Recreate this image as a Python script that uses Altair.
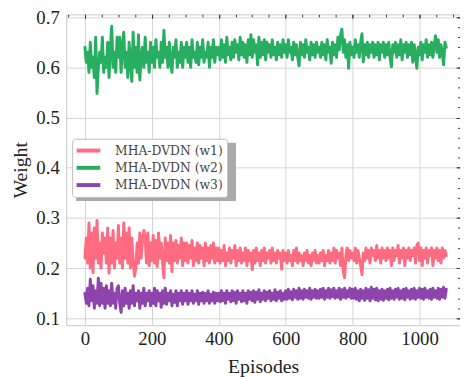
import altair as alt
import pandas as pd

# ---------------- data ----------------
episodes = list(range(0, 1081, 4))

w1 = ([0.22, 0.26, 0.21, 0.29, 0.20, 0.27, 0.191, 0.28, 0.22, 0.295, 0.21, 0.25, 0.20,
       0.27, 0.23, 0.26, 0.21, 0.28, 0.19, 0.26, 0.21, 0.275, 0.20, 0.25, 0.22]
      + [0.285, 0.21, 0.26, 0.20, 0.29, 0.22, 0.27, 0.21, 0.28, 0.20, 0.26, 0.215, 0.184,
         0.20, 0.25, 0.21, 0.27, 0.22, 0.255, 0.275, 0.26, 0.21, 0.27, 0.205, 0.25]
      + [0.215, 0.265, 0.21, 0.255, 0.203, 0.27, 0.22, 0.25, 0.21, 0.181, 0.26, 0.215, 0.25,
         0.21, 0.265, 0.193, 0.25, 0.215, 0.255, 0.21, 0.245, 0.22, 0.26, 0.205, 0.25]
      + [0.215, 0.25, 0.21, 0.245, 0.22, 0.255, 0.205, 0.24, 0.215, 0.25, 0.21, 0.245, 0.22,
         0.24, 0.205, 0.25, 0.215, 0.24, 0.21, 0.245, 0.22, 0.25, 0.21, 0.24, 0.215]
      + [0.24, 0.21, 0.235, 0.215, 0.245, 0.205, 0.23, 0.215, 0.24, 0.21, 0.235, 0.22, 0.245,
         0.205, 0.235, 0.215, 0.24, 0.21, 0.23, 0.215, 0.24, 0.205, 0.235, 0.215, 0.23]
      + [0.197, 0.235, 0.21, 0.24, 0.215, 0.23, 0.205, 0.235, 0.215, 0.24, 0.21, 0.23, 0.22,
         0.235, 0.21, 0.24, 0.215, 0.23, 0.21, 0.235, 0.22, 0.23, 0.198, 0.235, 0.215]
      + [0.23, 0.21, 0.235, 0.215, 0.225, 0.205, 0.235, 0.215, 0.24, 0.21, 0.23, 0.215, 0.225,
         0.205, 0.23, 0.215, 0.235, 0.21, 0.225, 0.205, 0.23, 0.215, 0.235, 0.21, 0.225]
      + [0.21, 0.23, 0.215, 0.235, 0.205, 0.225, 0.215, 0.235, 0.21, 0.23, 0.215, 0.24, 0.21,
         0.235, 0.22, 0.23, 0.205, 0.24, 0.195, 0.181, 0.225, 0.24, 0.215, 0.235, 0.22]
      + [0.23, 0.215, 0.24, 0.21, 0.235, 0.22, 0.205, 0.187, 0.23, 0.215, 0.24, 0.22, 0.235,
         0.21, 0.24, 0.225, 0.235, 0.215, 0.245, 0.22, 0.235, 0.21, 0.24, 0.22, 0.235]
      + [0.215, 0.24, 0.22, 0.235, 0.205, 0.24, 0.215, 0.235, 0.225, 0.245, 0.21, 0.235, 0.22,
         0.24, 0.205, 0.235, 0.22, 0.24, 0.215, 0.235, 0.225, 0.24, 0.21, 0.245, 0.25]
      + [0.215, 0.24, 0.205, 0.235, 0.22, 0.24, 0.21, 0.235, 0.225, 0.24, 0.205, 0.235, 0.22,
         0.24, 0.215, 0.235, 0.21, 0.24, 0.22, 0.235, 0.225])

w2 = ([0.64, 0.61, 0.63, 0.59, 0.65, 0.60, 0.62, 0.58, 0.66, 0.548, 0.60, 0.63, 0.61,
       0.66, 0.59, 0.62, 0.60, 0.65, 0.58, 0.64, 0.682, 0.60, 0.63, 0.59, 0.66]
      + [0.62, 0.66, 0.59, 0.64, 0.67, 0.60, 0.63, 0.58, 0.65, 0.61, 0.572, 0.67, 0.60,
         0.64, 0.59, 0.665, 0.575, 0.62, 0.64, 0.60, 0.66, 0.61, 0.63, 0.59, 0.65]
      + [0.61, 0.64, 0.60, 0.655, 0.62, 0.63, 0.60, 0.65, 0.61, 0.674, 0.62, 0.64, 0.60,
         0.65, 0.61, 0.59, 0.64, 0.62, 0.655, 0.60, 0.63, 0.61, 0.65, 0.60, 0.64]
      + [0.62, 0.65, 0.61, 0.64, 0.60, 0.655, 0.62, 0.63, 0.61, 0.65, 0.605, 0.64, 0.62,
         0.655, 0.61, 0.63, 0.62, 0.65, 0.60, 0.64, 0.62, 0.655, 0.61, 0.64, 0.625]
      + [0.64, 0.615, 0.655, 0.62, 0.645, 0.61, 0.66, 0.625, 0.64, 0.615, 0.65, 0.62, 0.655,
         0.63, 0.645, 0.615, 0.66, 0.625, 0.65, 0.62, 0.645, 0.61, 0.655, 0.625, 0.665]
      + [0.62, 0.655, 0.63, 0.645, 0.605, 0.66, 0.62, 0.65, 0.625, 0.655, 0.615, 0.65, 0.63,
         0.645, 0.62, 0.655, 0.625, 0.64, 0.615, 0.65, 0.625, 0.645, 0.62, 0.655, 0.63]
      + [0.645, 0.62, 0.655, 0.63, 0.64, 0.615, 0.65, 0.625, 0.645, 0.62, 0.603, 0.65, 0.625,
         0.645, 0.62, 0.655, 0.63, 0.64, 0.615, 0.65, 0.625, 0.645, 0.62, 0.65, 0.63]
      + [0.64, 0.62, 0.65, 0.625, 0.645, 0.615, 0.655, 0.63, 0.64, 0.608, 0.65, 0.625, 0.645,
         0.62, 0.66, 0.635, 0.665, 0.676, 0.63, 0.655, 0.62, 0.645, 0.598, 0.65, 0.625]
      + [0.64, 0.62, 0.655, 0.63, 0.645, 0.62, 0.65, 0.667, 0.611, 0.645, 0.625, 0.65, 0.62,
         0.645, 0.63, 0.65, 0.62, 0.645, 0.625, 0.65, 0.615, 0.645, 0.63, 0.65, 0.62]
      + [0.645, 0.625, 0.65, 0.62, 0.601, 0.645, 0.63, 0.65, 0.62, 0.645, 0.625, 0.655, 0.615,
         0.645, 0.63, 0.65, 0.62, 0.645, 0.625, 0.65, 0.61, 0.645, 0.625, 0.598, 0.64]
      + [0.625, 0.65, 0.615, 0.645, 0.63, 0.655, 0.62, 0.645, 0.625, 0.65, 0.62, 0.645, 0.663,
         0.63, 0.655, 0.62, 0.645, 0.63, 0.605, 0.65, 0.64])

w3 = ([0.15, 0.13, 0.16, 0.125, 0.178, 0.135, 0.165, 0.12, 0.155, 0.13, 0.18, 0.125, 0.17,
       0.13, 0.16, 0.12, 0.165, 0.13, 0.155, 0.125, 0.17, 0.13, 0.15, 0.12, 0.16]
      + [0.165, 0.13, 0.112, 0.155, 0.125, 0.16, 0.13, 0.15, 0.12, 0.155, 0.13, 0.165, 0.125,
         0.15, 0.135, 0.155, 0.12, 0.15, 0.13, 0.16, 0.125, 0.15, 0.135, 0.155, 0.125]
      + [0.15, 0.13, 0.16, 0.125, 0.155, 0.135, 0.15, 0.122, 0.155, 0.13, 0.16, 0.128, 0.15,
         0.135, 0.155, 0.125, 0.148, 0.132, 0.155, 0.125, 0.15, 0.135, 0.155, 0.128, 0.15]
      + [0.135, 0.155, 0.128, 0.15, 0.135, 0.155, 0.13, 0.148, 0.135, 0.155, 0.128, 0.15, 0.135,
         0.152, 0.13, 0.15, 0.135, 0.155, 0.13, 0.148, 0.135, 0.152, 0.13, 0.15, 0.135]
      + [0.15, 0.133, 0.155, 0.135, 0.15, 0.13, 0.155, 0.138, 0.15, 0.133, 0.155, 0.135, 0.152,
         0.13, 0.155, 0.138, 0.15, 0.133, 0.155, 0.135, 0.15, 0.13, 0.155, 0.138, 0.152]
      + [0.135, 0.155, 0.132, 0.152, 0.138, 0.157, 0.133, 0.15, 0.138, 0.155, 0.135, 0.152, 0.14,
         0.155, 0.135, 0.15, 0.138, 0.157, 0.135, 0.152, 0.14, 0.155, 0.135, 0.15, 0.138]
      + [0.155, 0.138, 0.158, 0.14, 0.153, 0.137, 0.158, 0.142, 0.155, 0.138, 0.16, 0.14, 0.155,
         0.138, 0.158, 0.142, 0.155, 0.14, 0.16, 0.138, 0.155, 0.142, 0.158, 0.14, 0.155]
      + [0.14, 0.158, 0.142, 0.16, 0.138, 0.155, 0.142, 0.16, 0.14, 0.157, 0.143, 0.16, 0.14,
         0.155, 0.142, 0.16, 0.138, 0.157, 0.142, 0.16, 0.14, 0.155, 0.143, 0.16, 0.14]
      + [0.158, 0.14, 0.16, 0.138, 0.155, 0.135, 0.158, 0.14, 0.155, 0.136, 0.16, 0.14, 0.157,
         0.135, 0.162, 0.14, 0.158, 0.137, 0.16, 0.135, 0.155, 0.138, 0.158, 0.136, 0.155]
      + [0.14, 0.158, 0.137, 0.16, 0.14, 0.155, 0.138, 0.158, 0.142, 0.16, 0.138, 0.155, 0.14,
         0.158, 0.137, 0.16, 0.142, 0.155, 0.138, 0.158, 0.14, 0.16, 0.138, 0.155, 0.142]
      + [0.16, 0.14, 0.158, 0.138, 0.16, 0.142, 0.155, 0.14, 0.158, 0.138, 0.16, 0.142, 0.155,
         0.14, 0.16, 0.138, 0.158, 0.142, 0.162, 0.14, 0.158])

series_names = ["MHA-DVDN (w1)", "MHA-DVDN (w2)", "MHA-DVDN (w3)"]
series_colors = ["#ff6b81", "#27ae60", "#8e44ad"]

x_major = [0, 200, 400, 600, 800, 1000]
x_minor = [-50, 0, 50, 100, 150, 200, 250, 300, 350, 400, 450, 500, 550,
           600, 650, 700, 750, 800, 850, 900, 950, 1000, 1050, 1100]
y_major = [0.1, 0.2, 0.3, 0.4, 0.5, 0.6, 0.7]
y_minor = [0.1, 0.12, 0.14, 0.16, 0.18, 0.2, 0.22, 0.24, 0.26, 0.28, 0.3, 0.32,
           0.34, 0.36, 0.38, 0.4, 0.42, 0.44, 0.46, 0.48, 0.5, 0.52, 0.54, 0.56,
           0.58, 0.6, 0.62, 0.64, 0.66, 0.68, 0.7]

rows = []
for name, vals in zip(series_names, [w1, w2, w3]):
    for e, v in zip(episodes, vals):
        rows.append({"Episode": e, "Weight": v, "Series": name})
df = pd.DataFrame(rows)

FONT = "Liberation Serif"
x_scale = alt.Scale(domain=[-56, 1121], nice=False, zero=False)
y_scale = alt.Scale(domain=[0.0862, 0.7056], nice=False, zero=False)

lines = alt.Chart(df).mark_line(strokeWidth=3, strokeJoin="round", strokeCap="round").encode(
    x=alt.X("Episode:Q", scale=x_scale,
            axis=alt.Axis(orient="bottom", values=x_major, format="d", title="Episodes",
                          grid=True, ticks=False, tickSize=0, domain=False,
                          labelPadding=5, titlePadding=8, titleFontSize=20)),
    y=alt.Y("Weight:Q", scale=y_scale,
            axis=alt.Axis(orient="left", values=y_major, format=".1f", title="Weight",
                          grid=True, ticks=False, tickSize=0, domain=False,
                          labelPadding=7, titlePadding=6, titleFontSize=20)),
    color=alt.Color("Series:N", scale=alt.Scale(domain=series_names, range=series_colors),
                    legend=alt.Legend(orient="none", legendX=6, legendY=126, title=None,
                                      symbolType="M-2,0H2", symbolSize=144,
                                      symbolStrokeWidth=4, symbolOffset=4.5,
                                      labelOffset=19, labelFont="DejaVu Serif",
                                      labelFontSize=12.5, labelColor="#444",
                                      rowPadding=1.5, padding=4,
                                      strokeColor="#bdbdbd", fillColor="white",
                                      cornerRadius=3)),
)


def tick_layer(xvals, yvals, size):
    return alt.Chart(df).mark_line(opacity=0).encode(
        x=alt.X("Episode:Q", scale=x_scale,
                axis=alt.Axis(orient="top", values=xvals, labels=False, ticks=True,
                              tickSize=size, tickColor="#333", tickWidth=1,
                              domain=False, grid=False, offset=-size, title=None)),
        y=alt.Y("Weight:Q", scale=y_scale,
                axis=alt.Axis(orient="right", values=yvals, labels=False, ticks=True,
                              tickSize=size, tickColor="#333", tickWidth=1,
                              domain=False, grid=False, offset=-size, title=None)),
    )


minor = tick_layer(x_minor, y_minor, 2.5)
major = tick_layer(x_major, y_major, 4)

shadow = alt.Chart(pd.DataFrame({"k": [0]})).mark_rect(color="#aaaaaa").encode(
    x=alt.value(10), x2=alt.value(172), y=alt.value(130), y2=alt.value(189)
)

chart = (
    alt.layer(shadow, minor, major, lines)
    .resolve_axis(x="independent", y="independent")
    .properties(width=399, height=315,
                padding={"left": 59, "top": 4, "right": 0, "bottom": 50},
                autosize=alt.AutoSizeParams(type="none"))
    .configure_view(stroke="#c8c8c8", strokeWidth=1)
    .configure_axis(labelFont=FONT, labelFontSize=19, labelColor="#222",
                    titleFont=FONT, titleFontSize=19, titleFontWeight="normal",
                    titleColor="#222", gridColor="#d3d3d3", gridWidth=1)
)

chart.save("out.html", embed_options={"renderer": "svg", "actions": False})
